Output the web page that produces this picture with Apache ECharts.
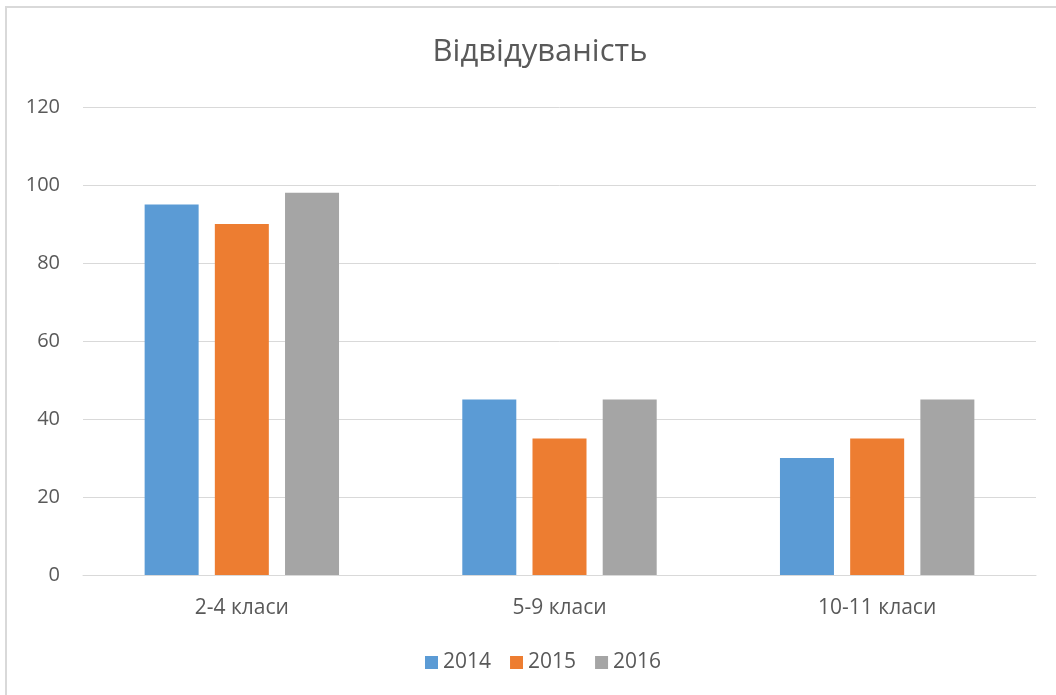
<!DOCTYPE html>
<html>
<head>
<meta charset="utf-8">
<script src="https://cdn.jsdelivr.net/npm/echarts@6/dist/echarts.min.js"></script>
<style>
  html, body { margin: 0; padding: 0; background: #fff; }
  #chart { width: 1056px; height: 695px; }
</style>
</head>
<body>
<div id="chart"></div>
<script>
// data
var categories = ['2-4 класи', '5-9 класи', '10-11 класи']
var years = ['2014', '2015', '2016']
var values2014 = [95, 45, 30]
var values2015 = [90, 35, 35]
var values2016 = [98, 45, 45]
var colors = ['#5B9BD5', '#ED7D31', '#A5A5A5']

var font = '"Open Sans", "Noto Sans", sans-serif'
var textColor = '#595959'

var chart = echarts.init(document.getElementById('chart'))

function makeSeries(name, data, i) {
  return {
    name: name,
    type: 'bar',
    data: data,
    barWidth: 54,
    barGap: '30%',
    itemStyle: { color: colors[i] }
  }
}

var option = {
  backgroundColor: '#fff',
  animation: false,
  title: {
    text: 'Відвідуваність',
    left: 535,
    textAlign: 'center',
    top: 32,
    textStyle: { fontFamily: font, fontSize: 31, fontWeight: 'normal', color: textColor }
  },
  graphic: [{
    type: 'rect',
    shape: { x: 6, y: 7, width: 1100, height: 750 },
    style: { fill: 'none', stroke: '#d9d9d9', lineWidth: 2 },
    silent: true
  }],
  legend: {
    data: years,
    left: 420,
    top: 647,
    itemWidth: 13,
    itemHeight: 13,
    itemGap: 19,
    icon: 'rect',
    textStyle: { fontFamily: font, fontSize: 21, color: textColor }
  },
  grid: { left: 83, right: 20, top: 107, bottom: 120 },
  xAxis: {
    type: 'category',
    data: categories,
    axisLine: { lineStyle: { color: '#d9d9d9', width: 1 } },
    axisTick: { show: false },
    axisLabel: { fontFamily: font, fontSize: 21, color: textColor, margin: 23 }
  },
  yAxis: {
    type: 'value',
    min: 0,
    max: 120,
    interval: 20,
    axisLine: { show: false },
    axisTick: { show: false },
    splitLine: { lineStyle: { color: '#d9d9d9' } },
    axisLabel: { fontFamily: font, fontSize: 20, color: textColor, margin: 23 }
  },
  series: [
    makeSeries(years[0], values2014, 0),
    makeSeries(years[1], values2015, 1),
    makeSeries(years[2], values2016, 2)
  ]
}

chart.setOption(option)
</script>
</body>
</html>
